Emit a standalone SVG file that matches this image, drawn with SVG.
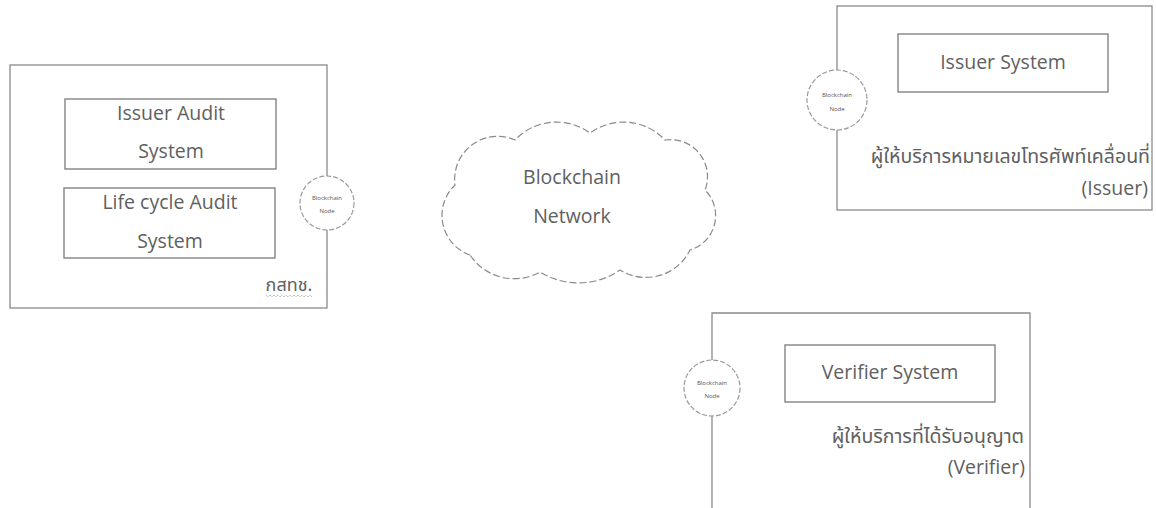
<svg xmlns="http://www.w3.org/2000/svg" width="1156" height="508" viewBox="0 0 1156 508">
<style>
.box{fill:none;stroke:#8a8a8a;stroke-width:1.3}
.inner{fill:#fff;stroke:#7a7a7a;stroke-width:1.3}
.node{fill:#fff;stroke:#9a9a9a;stroke-width:1.2;stroke-dasharray:5 2}
.t{font-family:"Open Sans","Noto Sans","Noto Sans Thai",sans-serif;font-size:19.5px;fill:#606060}
.th{font-family:"Noto Sans Thai","Noto Sans","Open Sans",sans-serif;font-size:19.5px;fill:#606060}
.s{font-family:"Open Sans","Noto Sans",sans-serif;font-size:6px;fill:#555}
.mid{text-anchor:middle}
.end{text-anchor:end}
.cloud{fill:#fff;stroke:#8a8a8a;stroke-width:1.2;stroke-dasharray:7 3}
</style>
<rect width="1156" height="508" fill="#fff"/>

<g id="regulator">
<rect class="box" x="10" y="65" width="317" height="243"/>
<text class="th mid" x="289" y="291" style="font-size:18px">กสทช.</text>
<path d="M266 295 l2 2 l2 -2 l2 2 l2 -2 l2 2 l2 -2 l2 2 l2 -2 l2 2 l2 -2 l2 2 l2 -2 l2 2 l2 -2 l2 2 l2 -2 l2 2 l2 -2 l2 2 l2 -2 l2 2 l2 -2 l2 2" fill="none" stroke="#888" stroke-width="0.8" stroke-dasharray="1 1"/>
</g>
<g id="issuer-audit">
<rect class="inner" x="65" y="99" width="211" height="70"/>
<text class="t mid" x="171" y="120">Issuer Audit</text>
<text class="t mid" x="171" y="158">System</text>
</g>
<g id="lifecycle-audit">
<rect class="inner" x="64" y="188" width="211" height="70"/>
<text class="t mid" x="170" y="209">Life cycle Audit</text>
<text class="t mid" x="170" y="248">System</text>
</g>
<g id="node-regulator">
<circle class="node" cx="327" cy="203" r="27"/>
<text class="s mid" x="327" y="200">Blockchain</text>
<text class="s mid" x="327" y="213">Node</text>
</g>

<g id="blockchain-network">
<path class="cloud" d="M470 255 A42 42 0 0 1 455 185 A43 43 0 0 1 515 140 A57 57 0 0 1 590 133 A57 57 0 0 1 665 140 A37 37 0 0 1 705 190 A36 36 0 0 1 690 250 A49 49 0 0 1 620 270 A73 73 0 0 1 540 272 A53 53 0 0 1 470 255 Z"/>
<text class="t mid" x="572" y="184">Blockchain</text>
<text class="t mid" x="572" y="223">Network</text>
</g>

<g id="issuer">
<rect class="box" x="837" y="6" width="315" height="204"/>
<text class="th end" x="1150" y="163">ผู้ให้บริการหมายเลขโทรศัพท์เคลื่อนที่</text>
<text class="t end" x="1148" y="195">(Issuer)</text>
</g>
<g id="issuer-system">
<rect class="inner" x="898" y="34" width="210" height="58"/>
<text class="t mid" x="1003" y="69">Issuer System</text>
</g>
<g id="node-issuer">
<circle class="node" cx="837" cy="100" r="30"/>
<text class="s mid" x="837" y="97">Blockchain</text>
<text class="s mid" x="837" y="111">Node</text>
</g>

<g id="verifier">
<path class="box" d="M712 508 V313 H1030 V508"/>
<text class="th end" x="1024" y="443">ผู้ให้บริการที่ได้รับอนุญาต</text>
<text class="t end" x="1025" y="474">(Verifier)</text>
</g>
<g id="verifier-system">
<rect class="inner" x="785" y="345" width="210" height="57"/>
<text class="t mid" x="890" y="379">Verifier System</text>
</g>
<g id="node-verifier">
<circle class="node" cx="712" cy="388" r="28"/>
<text class="s mid" x="712" y="385">Blockchain</text>
<text class="s mid" x="712" y="398">Node</text>
</g>

<g id="connectors"></g>
</svg>
